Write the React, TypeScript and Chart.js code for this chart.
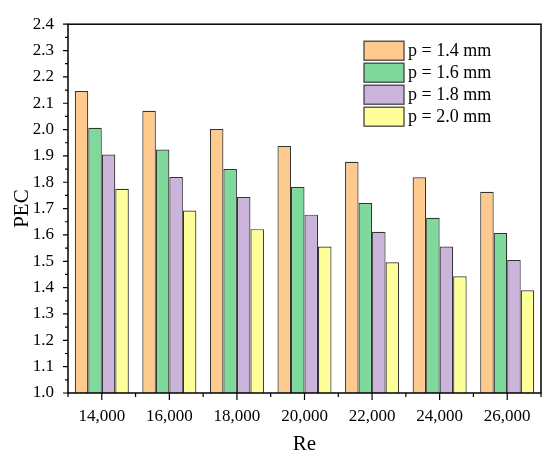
import React, { useEffect, useRef } from 'react';
import { Chart, registerables } from 'chart.js';

Chart.register(...registerables);

const categories = ['14,000', '16,000', '18,000', '20,000', '22,000', '24,000', '26,000'];
const seriesLabels = ['p = 1.4 mm', 'p = 1.6 mm', 'p = 1.8 mm', 'p = 2.0 mm'];
const pec14 = [2.146, 2.071, 2.002, 1.938, 1.878, 1.819, 1.764];
const pec16 = [2.007, 1.924, 1.850, 1.782, 1.721, 1.665, 1.607];
const pec18 = [1.905, 1.820, 1.744, 1.677, 1.612, 1.556, 1.505];
const pec20 = [1.775, 1.693, 1.622, 1.556, 1.496, 1.443, 1.390];
const yTickValues = [1.0, 1.1, 1.2, 1.3, 1.4, 1.5, 1.6, 1.7, 1.8, 1.9, 2.0, 2.1, 2.2, 2.3, 2.4];

const colors = ['#FFCA8E', '#7FD99A', '#CBB4DC', '#FFFF9A'];
const FONT = '"Liberation Serif", "Times New Roman", serif';

// frame, outward ticks and the legend inside the plot
const decorations = {
  id: 'decorations',
  afterDraw(chart: any) {
    const { ctx, chartArea: a } = chart;
    const x = chart.scales.x;
    const y = chart.scales.y;
    ctx.save();
    ctx.strokeStyle = '#000';
    ctx.lineWidth = 1.5;
    ctx.strokeRect(a.left, a.top, a.right - a.left, a.bottom - a.top);

    ctx.lineWidth = 1.2;
    ctx.beginPath();
    yTickValues.forEach((v, i) => {
      const py = y.getPixelForValue(v);
      ctx.moveTo(a.left, py);
      ctx.lineTo(a.left - 5, py);
      if (i < yTickValues.length - 1) {
        const my = y.getPixelForValue((v + yTickValues[i + 1]) / 2);
        ctx.moveTo(a.left, my);
        ctx.lineTo(a.left - 3, my);
      }
    });
    const n = categories.length;
    const step = (a.right - a.left) / n;
    for (let i = 0; i < n; i++) {
      const px = x.getPixelForValue(i);
      ctx.moveTo(px, a.bottom);
      ctx.lineTo(px, a.bottom + 7);
    }
    for (let i = 0; i <= n; i++) {
      const px = a.left + step * i;
      ctx.moveTo(px, a.bottom);
      ctx.lineTo(px, a.bottom + 4);
    }
    ctx.stroke();

    // legend
    const lx = a.right - 177;
    let ly = a.top + 17;
    ctx.font = `18px ${FONT}`;
    ctx.textBaseline = 'middle';
    ctx.textAlign = 'left';
    chart.data.datasets.forEach((ds: any) => {
      ctx.fillStyle = ds.backgroundColor;
      ctx.fillRect(lx, ly, 40, 19);
      ctx.strokeStyle = '#444';
      ctx.lineWidth = 1.3;
      ctx.strokeRect(lx, ly, 40, 19);
      ctx.fillStyle = '#000';
      ctx.fillText(ds.label, lx + 44, ly + 10);
      ly += 22;
    });
    ctx.restore();
  },
};

const App: React.FC = () => {
  const canvasRef = useRef<HTMLCanvasElement>(null);
  const chartRef = useRef<Chart | null>(null);

  useEffect(() => {
    document.body.style.margin = '0';
    if (!canvasRef.current) return;
    if (chartRef.current) chartRef.current.destroy();

    const series = [pec14, pec16, pec18, pec20];
    chartRef.current = new Chart(canvasRef.current, {
      type: 'bar',
      data: {
        labels: categories,
        datasets: series.map((data, i) => ({
          label: seriesLabels[i],
          data,
          backgroundColor: colors[i],
          borderColor: '#333',
          borderWidth: 1.2,
          categoryPercentage: 0.8,
          barPercentage: 1.0,
        })),
      },
      options: {
        animation: false,
        responsive: true,
        maintainAspectRatio: false,
        layout: { padding: { top: 12, right: 9, left: 0, bottom: 0 } },
        plugins: {
          legend: { display: false },
          tooltip: { enabled: false },
        },
        scales: {
          x: {
            grid: { display: false, drawTicks: false },
            border: { display: false },
            ticks: {
              color: '#000',
              font: { family: FONT, size: 17 },
              padding: 13,
              maxRotation: 0,
            },
            title: {
              display: true,
              text: 'Re',
              color: '#000',
              font: { family: FONT, size: 21 },
              padding: { top: 0, bottom: 3 },
            },
            afterFit: (scale: any) => {
              scale.height = 67;
            },
          },
          y: {
            min: 1.0,
            max: 2.4,
            grid: { display: false, drawTicks: false },
            border: { display: false },
            afterBuildTicks: (scale: any) => {
              scale.ticks = yTickValues.map((v) => ({ value: v }));
            },
            ticks: {
              color: '#000',
              font: { family: FONT, size: 17 },
              padding: 14,
              callback: (v: any) => Number(v).toFixed(1),
            },
            title: {
              display: true,
              text: 'PEC',
              color: '#000',
              font: { family: FONT, size: 21 },
              padding: { top: 10, bottom: 0 },
            },
            afterFit: (scale: any) => {
              scale.width = 68;
            },
          },
        },
      },
      plugins: [decorations],
    });

    return () => {
      if (chartRef.current) {
        chartRef.current.destroy();
        chartRef.current = null;
      }
    };
  }, []);

  return (
    <div style={{ width: 550, height: 460, position: 'relative', background: '#fff' }}>
      <canvas ref={canvasRef}></canvas>
    </div>
  );
};

export default App;
